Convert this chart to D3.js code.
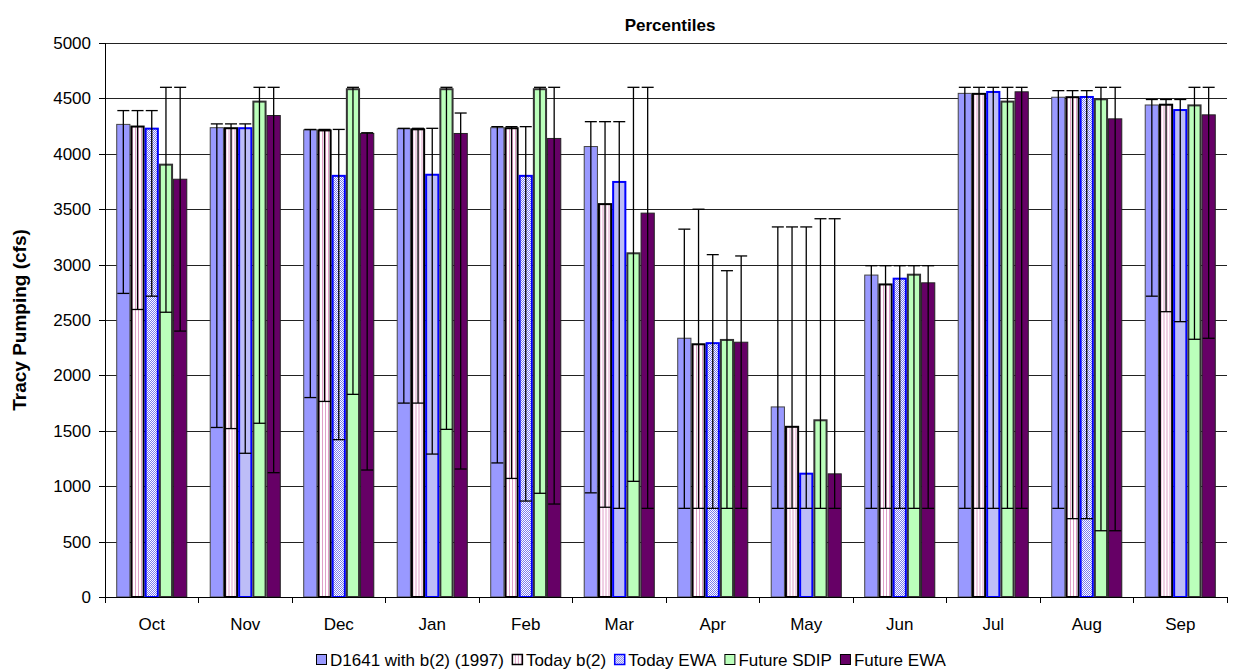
<!DOCTYPE html>
<html>
<head>
<meta charset="utf-8">
<script src="https://cdn.jsdelivr.net/npm/d3@7"></script>
<style>
  html, body { margin: 0; padding: 0; background: #fff; }
  svg { display: block; font-family: "Liberation Sans", Arial, sans-serif; }
</style>
</head>
<body>
<svg id="chart" width="1233" height="671"></svg>
<script>
const months = ["Oct","Nov","Dec","Jan","Feb","Mar","Apr","May","Jun","Jul","Aug","Sep"];
const seriesNames = ["D1641 with b(2) (1997)","Today b(2)","Today EWA","Future SDIP","Future EWA"];
const yTicks = [0,500,1000,1500,2000,2500,3000,3500,4000,4500,5000];

const d1641Bar = [4270,4240,4220,4230,4240,4070,2340,1720,2910,4550,4515,4445];
const d1641Hi  = [4390,4270,4220,4230,4245,4290,3320,3340,2990,4600,4570,4490];
const d1641Lo  = [2740,1530,1800,1750,1210, 940, 800, 800, 800, 800, 800,2715];

const todayB2Bar = [4255,4240,4220,4230,4240,3555,2290,1545,2830,4550,4520,4452];
const todayB2Hi  = [4390,4270,4220,4230,4245,4290,3500,3340,2990,4600,4570,4490];
const todayB2Lo  = [2595,1520,1765,1750,1070, 810, 800, 800, 800, 800, 707,2575];

const todayEwaBar = [4236,4240,3810,3820,3810,3755,2300,1122,2882,4567,4522,4404];
const todayEwaHi  = [4390,4270,4220,4230,4245,4290,3090,3340,2990,4600,4570,4490];
const todayEwaLo  = [2715,1297,1420,1290, 866, 800, 800, 800, 800, 800, 707,2485];

const sdipBar = [3911,4480,4592,4592,4592,3111,2329,1604,2918,4480,4501,4446];
const sdipHi  = [4600,4600,4600,4600,4600,4600,2945,3414,2990,4600,4600,4600];
const sdipLo  = [2570,1568,1829,1513, 936,1044, 800, 800, 800, 800, 598,2326];

const futEwaBar = [3775,4350,4188,4188,4143,3469,2304,1116,2840,4564,4320,4356];
const futEwaHi  = [4600,4600,4190,4368,4600,4600,3078,3414,2990,4600,4600,4600];
const futEwaLo  = [2400,1122,1146,1155, 839, 800, 800, 800, 800, 800, 598,2335];

const bars = [d1641Bar, todayB2Bar, todayEwaBar, sdipBar, futEwaBar];
const his  = [d1641Hi, todayB2Hi, todayEwaHi, sdipHi, futEwaHi];
const los  = [d1641Lo, todayB2Lo, todayEwaLo, sdipLo, futEwaLo];

const svg = d3.select("#chart");
const defs = svg.append("defs");

const p1 = defs.append("pattern").attr("id","pinkStripe").attr("patternUnits","userSpaceOnUse")
  .attr("width",3).attr("height",3);
p1.append("rect").attr("width",3).attr("height",3).attr("fill","#ffffff");
p1.append("rect").attr("x",0).attr("width",1).attr("height",3).attr("fill","#e0a0c8");

const p2 = defs.append("pattern").attr("id","blueCheck").attr("patternUnits","userSpaceOnUse")
  .attr("width",2).attr("height",2);
p2.append("rect").attr("width",2).attr("height",2).attr("fill","#ffffff");
p2.append("rect").attr("x",0).attr("y",0).attr("width",1).attr("height",1).attr("fill","#7a7aee");
p2.append("rect").attr("x",1).attr("y",1).attr("width",1).attr("height",1).attr("fill","#7a7aee");

const styles = [
  {fill:"#9999ff", stroke:"#444", sw:1},
  {fill:"url(#pinkStripe)", stroke:"#000", sw:2},
  {fill:"url(#blueCheck)", stroke:"#0000ff", sw:2},
  {fill:"#bbffbb", stroke:"#333", sw:2},
  {fill:"#660066", stroke:"#222", sw:1}
];

const mLeft = 105, mRight = 1227, mTop = 43, mBottom = 597;
const FS = 17;

const x0 = d3.scaleBand().domain(months).range([mLeft,mRight]).padding(0);
const gw = x0.bandwidth();
const x1 = d3.scaleBand().domain(d3.range(5)).range([gw*0.12, gw*0.88]).padding(0);
const y = d3.scaleLinear().domain([0,5000]).range([mBottom, mTop]);

svg.append("g").selectAll("line").data(yTicks.filter(t=>t>0)).join("line")
  .attr("x1",mLeft).attr("x2",mRight)
  .attr("y1",d=>Math.round(y(d))+0.5).attr("y2",d=>Math.round(y(d))+0.5)
  .attr("stroke","#222").attr("stroke-width",1);

const yAxis = d3.axisLeft(y).tickValues(yTicks).tickFormat(d3.format("d"))
  .tickSize(6).tickPadding(8).tickSizeOuter(0);
const gy = svg.append("g").attr("transform",`translate(${mLeft},0)`).call(yAxis);
gy.selectAll("path,line").attr("stroke","#000").attr("shape-rendering","crispEdges");
gy.selectAll("text").attr("font-size",FS).attr("fill","#000")
  .attr("font-family","Liberation Sans, Arial, sans-serif");

const groups = svg.append("g").selectAll("g").data(months).join("g")
  .attr("transform",d=>`translate(${x0(d)},0)`);

groups.each(function(m, mi){
  const g = d3.select(this);
  for (let s=0; s<5; s++){
    const v = bars[s][mi];
    const st = styles[s];
    const bx = x1(s), bw = x1.bandwidth();
    g.append("rect")
      .attr("x", bx + st.sw/2).attr("y", y(v) + st.sw/2)
      .attr("width", bw - st.sw).attr("height", y(0) - y(v) - st.sw/2)
      .attr("fill", st.fill).attr("stroke", st.stroke).attr("stroke-width", st.sw);
  }
  for (let s=0; s<5; s++){
    const cx = x1(s) + x1.bandwidth()/2;
    const hi = his[s][mi], lo = los[s][mi];
    const cw = 6;
    g.append("line").attr("x1",cx).attr("x2",cx).attr("y1",y(hi)).attr("y2",y(lo))
      .attr("stroke","#000").attr("stroke-width",1.3);
    g.append("line").attr("x1",cx-cw).attr("x2",cx+cw).attr("y1",y(hi)).attr("y2",y(hi))
      .attr("stroke","#000").attr("stroke-width",1.3);
    g.append("line").attr("x1",cx-cw).attr("x2",cx+cw).attr("y1",y(lo)).attr("y2",y(lo))
      .attr("stroke","#000").attr("stroke-width",1.3);
  }
});

const xAxis = d3.axisBottom(x0).tickSize(0).tickPadding(21);
const gx = svg.append("g").attr("transform",`translate(0,${mBottom})`).call(xAxis);
gx.select("path").attr("stroke","#000").attr("shape-rendering","crispEdges");
gx.selectAll("text").attr("font-size",FS).attr("fill","#000")
  .attr("font-family","Liberation Sans, Arial, sans-serif");
gx.append("g").selectAll("line").data(months.concat(["end"])).join("line")
  .attr("x1",(d,i)=> i<months.length ? x0(d) : mRight)
  .attr("x2",(d,i)=> i<months.length ? x0(d) : mRight)
  .attr("y1",0).attr("y2",6).attr("stroke","#000").attr("shape-rendering","crispEdges");
svg.append("line").attr("x1",mLeft+0.5).attr("x2",mLeft+0.5).attr("y1",mTop).attr("y2",mBottom)
  .attr("stroke","#000");

svg.append("text").attr("x",(mLeft+mRight)/2+4).attr("y",31).attr("text-anchor","middle")
  .attr("font-size",FS).attr("font-weight","bold").text("Percentiles");

svg.append("text").attr("transform",`translate(26,${(mTop+mBottom)/2}) rotate(-90)`)
  .attr("text-anchor","middle").attr("font-size",19).attr("font-weight","bold")
  .text("Tracy Pumping (cfs)");

const legend = svg.append("g").attr("transform","translate(316,666)");
let lx = 0;
seriesNames.forEach((name,i)=>{
  const st = styles[i];
  const g = legend.append("g").attr("transform",`translate(${lx},0)`);
  g.append("rect").attr("x",0.5).attr("y",-11.5).attr("width",10).attr("height",10)
    .attr("fill",st.fill).attr("stroke",i===2 ? "#0000ff" : "#000").attr("stroke-width", i===1||i===2 ? 1.5 : 1);
  const t = g.append("text").attr("x",14).attr("y",0).attr("font-size",FS).text(name);
  lx += 14 + t.node().getComputedTextLength() + 8;
});
</script>
</body>
</html>
